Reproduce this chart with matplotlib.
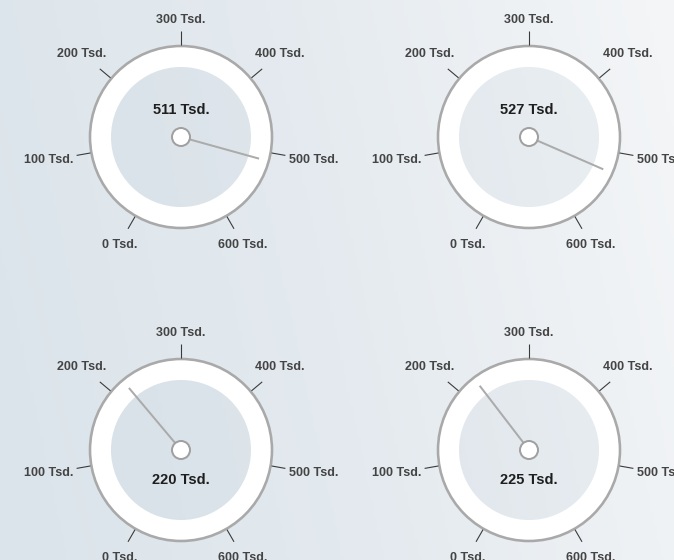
import numpy as np
import matplotlib.pyplot as plt
from matplotlib.patches import Circle, Wedge
from matplotlib.colors import LinearSegmentedColormap

# gauge values (Tsd.)
values = [511, 527, 220, 225]
value_labels = ["511 Tsd.", "527 Tsd.", "220 Tsd.", "225 Tsd."]
scale_ticks = [0, 100, 200, 300, 400, 500, 600]
tick_labels = ["0 Tsd.", "100 Tsd.", "200 Tsd.", "300 Tsd.", "400 Tsd.", "500 Tsd.", "600 Tsd."]

W, H = 674, 560
centers = [(181, 137), (529, 137), (181, 450), (529, 450)]
R_OUT, R_IN, R_HUB = 91, 70, 9
NEEDLE = 81
PX = 0.72  # one pixel in points at dpi 100

FONT = ['Liberation Sans Narrow', 'Liberation Sans', 'DejaVu Sans']


def angle_of(v):
    # degrees clockwise from top; 0 -> -150, 600 -> +150
    return np.radians(-150 + v * 0.5)


def point(cx, cy, r, a):
    return cx + r * np.sin(a), cy - r * np.cos(a)


fig = plt.figure(figsize=(W / 100, H / 100), dpi=100)
ax = fig.add_axes([0, 0, 1, 1])
ax.set_xlim(0, W)
ax.set_ylim(H, 0)
ax.set_aspect('equal')
ax.axis('off')

# background gradient
bg = LinearSegmentedColormap.from_list('bg', ['#dbe4eb', '#e4eaef', '#f3f5f7'])
gx = np.linspace(0, 1, 200)
gy = np.linspace(0, 1, 160)
GX, GY = np.meshgrid(gx, gy)
grad = np.clip(0.85 * GX + 0.15 * (1 - GY) + 0.03, 0, 1)
ax.imshow(grad, cmap=bg, extent=(0, W, H, 0), aspect='auto', zorder=0)

for (cx, cy), v, vl in zip(centers, values, value_labels):
    # white ring with grey outer edge, inner disc lets the background through
    ax.add_patch(Wedge((cx, cy), R_OUT, 0, 360, width=R_OUT - R_IN,
                       facecolor='white', edgecolor='none', zorder=2))
    ax.add_patch(Circle((cx, cy), R_OUT, facecolor='none', edgecolor='#a9a9a9',
                        linewidth=2.6 * PX, zorder=3))
    ax.add_patch(Circle((cx, cy), R_IN, facecolor='#b9c9d6', alpha=0.12,
                        edgecolor='none', zorder=3))

    for t, tl in zip(scale_ticks, tick_labels):
        a = angle_of(t)
        s, c = np.sin(a), np.cos(a)
        x0, y0 = point(cx, cy, R_OUT + 1, a)
        x1, y1 = point(cx, cy, R_OUT + 15, a)
        ax.plot([x0, x1], [y0, y1], color='#3a3a3a', linewidth=1.1 * PX, zorder=4,
                solid_capstyle='butt')
        lx = cx + s * (110 + 25 * abs(s))
        ly = cy - c * (117 + 15 * abs(s))
        ax.text(lx, ly, tl, ha='center', va='center', fontsize=9, fontweight='bold',
                color='#444444', family=FONT, zorder=5)

    a = angle_of(v)
    nx, ny = point(cx, cy, NEEDLE, a)
    ax.plot([cx, nx], [cy, ny], color='#ababab', linewidth=2 * PX, zorder=6,
            solid_capstyle='butt')
    ax.add_patch(Circle((cx, cy), R_HUB, facecolor='white', edgecolor='#a0a0a0',
                        linewidth=2 * PX, zorder=7))

    # value text sits opposite the needle
    ty = cy - 27 if np.cos(a) < 0 else cy + 30
    ax.text(cx, ty, vl, ha='center', va='center', fontsize=10.5, fontweight='bold',
            color='#1e1e1e', family=FONT, zorder=8)

fig.savefig('out.png', dpi=100)
